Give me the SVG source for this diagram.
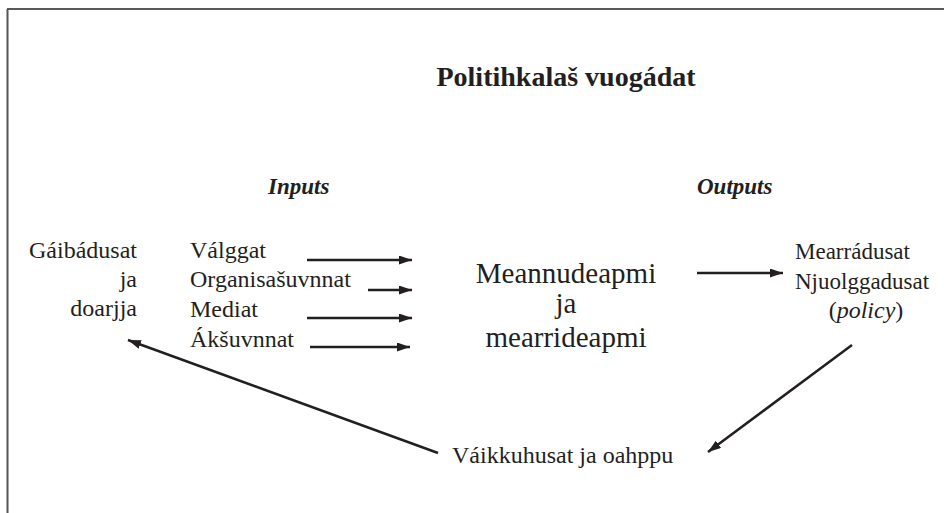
<svg xmlns="http://www.w3.org/2000/svg" width="944" height="513" viewBox="0 0 944 513">
<defs>
<style>
text{font-family:"Liberation Serif","DejaVu Serif",serif;fill:#231f20}
.t{font-size:28px;font-weight:bold}
.h{font-size:23px;font-weight:bold;font-style:italic}
.s{font-size:24px}
.m{font-size:29px}
.r{font-size:23px}
.f{font-size:24px}
.c line{stroke:#231f20;stroke-width:2.5;marker-end:url(#ah)}
</style>
<marker id="ah" markerUnits="userSpaceOnUse" markerWidth="14" markerHeight="10" refX="13" refY="4.5" orient="auto">
<path d="M0,0 L13,4.5 L0,9 z" fill="#231f20"/>
</marker>
</defs>
<rect width="944" height="513" fill="#fff"/>
<g id="frame">
<line x1="7" y1="9" x2="944" y2="9" stroke="#222" stroke-width="1.6"/>
<line x1="7.5" y1="9" x2="7.5" y2="513" stroke="#555" stroke-width="2"/>
</g>
<g id="title"><text class="t" x="566" y="86" text-anchor="middle">Politihkalaš vuogádat</text></g>
<g id="inputs-label"><text class="h" x="268" y="194">Inputs</text></g>
<g id="outputs-label"><text class="h" x="697" y="194">Outputs</text></g>
<g id="demands">
<text class="s" x="137" y="258" text-anchor="end">Gáibádusat</text>
<text class="s" x="137" y="287" text-anchor="end">ja</text>
<text class="s" x="137" y="316" text-anchor="end">doarjja</text>
</g>
<g id="inputs">
<text class="s" x="190" y="258">Válggat</text>
<text class="s" x="190" y="287">Organisašuvnnat</text>
<text class="s" x="190" y="317">Mediat</text>
<text class="s" x="190" y="347">Ákšuvnnat</text>
</g>
<g id="process">
<text class="m" x="566" y="283" text-anchor="middle">Meannudeapmi</text>
<text class="m" x="566" y="313" text-anchor="middle">ja</text>
<text class="m" x="566" y="347" text-anchor="middle">mearrideapmi</text>
</g>
<g id="outputs">
<text class="r" x="795" y="259">Mearrádusat</text>
<text class="r" x="795" y="289">Njuolggadusat</text>
<text class="f" x="866" y="318" text-anchor="middle">(<tspan font-style="italic">policy</tspan>)</text>
</g>
<g id="feedback"><text class="f" x="452" y="463">Váikkuhusat ja oahppu</text></g>
<g id="connectors" class="c">
<line x1="307" y1="260" x2="412" y2="260"/>
<line x1="368" y1="290" x2="412" y2="290"/>
<line x1="307" y1="318" x2="412" y2="318"/>
<line x1="310" y1="347" x2="410" y2="347"/>
<line x1="697" y1="273" x2="783" y2="273"/>
<line x1="852" y1="345" x2="708" y2="452"/>
<line x1="438" y1="453" x2="128" y2="340"/>
</g>
</svg>
